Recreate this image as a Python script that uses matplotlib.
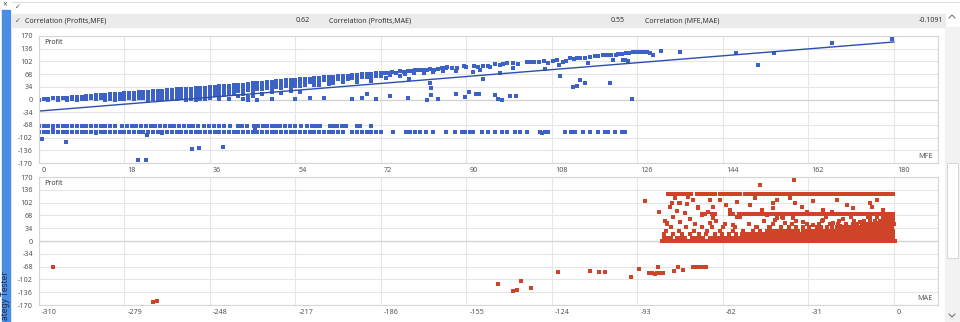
import matplotlib
matplotlib.use("Agg")
from matplotlib import pyplot as plt
from matplotlib import transforms
from matplotlib.patches import Rectangle
from matplotlib.lines import Line2D

plt.rcParams['font.family'] = ['Noto Sans', 'DejaVu Sans']

# ---------------- values ----------------
correlations = [("Correlation (Profits,MFE)", "0.62"),
                ("Correlation (Profits,MAE)", "0.55"),
                ("Correlation (MFE,MAE)", "-0.1091")]

profit_ticks = [-170, -136, -102, -68, -34, 0, 34, 68, 102, 136, 170]
mfe_ticks = [0, 18, 36, 54, 72, 90, 108, 126, 144, 162, 180]
mae_ticks = [-310, -279, -248, -217, -186, -155, -124, -93, -62, -31, 0]

# regression line of profit on MFE
fit_mfe = [0, 180]
fit_profit = [-31, 154]

# winning trades, profit vs MFE: (mfe, [profits]) columns
mfe_win_cols = [
    (0, [0]), (1, [1]), (2, [2, 0]), (3, [3]), (4, [4, 0]), (5, [5]), (6, [5, 0]),
    (7, [6, 1]), (8, [7, 0]), (9, [8, 2]), (10, [9, 1]), (11, [10, 3]), (12, [11, 2]),
    (13, [12, 4]), (14, [13, 5, 0]), (15, [14, 6, 1]), (16, [15, 7, 0]), (17, [16, 8, 2]),
    (18, [17, 9, 1]), (19, [17, 9, 3]), (20, [18, 10, 2]), (21, [19, 11, 4]),
    (22, [20, 12, 3]), (23, [21, 13, 5, 0]), (24, [22, 14, 6, 1]), (25, [23, 15, 7, 0]),
    (26, [24, 16, 8, 2]), (27, [25, 17, 9, 1]), (28, [26, 18, 10, 3]), (29, [27, 19, 11, 2]),
    (30, [28, 20, 12, 4]), (31, [29, 21, 13, 5, 0]), (32, [29, 21, 13, 6, 1]),
    (33, [30, 22, 14, 7, 0]), (34, [31, 23, 15, 8, 2]), (35, [32, 24, 16, 9, 1]),
    (36, [33, 25, 17, 10, 3]), (37, [34, 26, 18, 11]), (38, [35, 27, 19, 12, 2]),
    (39, [36, 28, 20, 13]), (40, [37, 29, 21, 14, 1]), (41, [38, 30, 22, 14]),
    (42, [39, 31, 23, 9]), (43, [40, 32, 24, 16, 1]), (44, [41, 33, 25, 8, 0]),
    (45, [43, 35, 27, 18, 9]), (46, [44, 36, 28, 0]), (47, [45, 37, 27, 16]),
    (48, [46, 38, 30]), (49, [48, 40, 32, 20, 1]), (50, [49, 41, 33]), (51, [50, 42, 31, 18]),
    (52, [51, 43, 35]), (53, [52, 44, 34, 22]), (54, [53, 45, 37, 1]), (55, [54, 46, 36, 19]),
    (56, [55, 47, 39]), (57, [56, 48, 3]), (58, [57, 49, 40]), (59, [58, 50, 38]),
    (60, [59, 51, 4]), (61, [60, 52, 42]), (62, [61, 53, 44]), (63, [62, 54]),
    (64, [63, 55, 46]), (65, [64, 56]), (66, [65, 57, 2]), (67, [66, 58, 48]),
    (68, [67, 59, 3]), (69, [68, 60, 16]), (70, [69, 61, 50]), (71, [70, 62, 2]), (72, [71, 63]),
]
mfe_win_pts = [
    (72.8, 72), (73.6, 71), (74.4, 73), (75.2, 72), (76, 75), (76.8, 74), (77.6, 77), (78.4, 76),
    (79.2, 78), (80, 79), (80.8, 78), (81.6, 80), (82.4, 81), (83.2, 80), (84, 82), (84.8, 84),
    (85.6, 85), (74, 65), (76, 62), (77, 67), (79, 70), (81, 71), (83, 73), (85, 75), (73, 58),
    (78, 55), (82.3, 43), (82.6, 30), (82.6, 12), (81.6, 0), (77.8, 3), (74, 10), (84, 1),
    (86, 86), (87, 85), (88, 84), (89.5, 89), (90, 88), (91.5, 90), (92.5, 88), (93.5, 91),
    (94.5, 89), (95, 87), (96, 94), (97, 93), (97.8, 95), (98.5, 97), (99.8, 98), (100.9, 94),
    (102.7, 101), (103.5, 100), (104.3, 101), (105.2, 100), (106.3, 102), (107.2, 99),
    (108.2, 103), (109, 106), (110.4, 101), (111, 102), (111.8, 110), (112.6, 109), (113.3, 110),
    (114, 112), (115, 111), (116, 114), (117, 117), (117.8, 116), (118.8, 119), (119.7, 118),
    (120.5, 119), (121.4, 118), (122, 122), (122.8, 123), (123.5, 124), (124.3, 125), (125, 127),
    (125.8, 126), (126.5, 127), (127.2, 128), (128, 127), (128.7, 124), (129.3, 120),
    (87.9, 77), (91.4, 74), (92.8, 78), (97, 70), (99.9, 83), (106.6, 81), (109.4, 92),
    (115.7, 99), (120.9, 105), (123.4, 107), (123, 105), (124, 103),
    (87.8, 16), (89.7, 7), (90.6, 20), (92.1, 16), (92.6, 16), (93.4, 56), (96, 12), (96.6, 1),
    (97.5, 0), (99.1, 9), (100.4, 9), (109.7, 62), (112.5, 34), (113.2, 35), (113.9, 51),
    (115, 45), (120.2, 44), (124.9, 1),
    (131, 130), (135, 126), (146.7, 125), (151.5, 92), (154.7, 125), (167, 150), (179.7, 163),
]

# losing trades, two stop levels
loss_a_profit = -70
loss_a_mfe = [0, 1, 2, 3, 4, 5, 6, 7, 8, 9, 10, 11, 12, 13, 14, 15, 16, 17.5, 18.5, 19.5, 20.5,
              21.5, 22.5, 23.5, 24.5, 25.5, 26.5, 27.5, 28.5, 29.5, 30.5, 31.5, 32.5, 33.5,
              34.8, 35.8, 36.8, 37.8, 39, 40.2, 41.8, 42.8, 43.8, 45.2, 46.2, 47.2, 48, 49, 50,
              50.8, 51.8, 52.8, 54, 55.2, 56.4, 57.4, 58.4, 59.2, 61.3, 62, 62.8, 63.8, 64.6,
              67, 67.6, 70]
loss_b_profit = -86
loss_b_mfe = [0, 1, 2, 3, 4, 5, 6, 7, 8, 9, 10, 11, 12, 13, 14, 15, 16, 17, 18, 19, 20, 21, 22,
              23, 24, 25, 26, 27, 28, 29, 30, 31, 32, 33, 34, 35, 36, 37, 38, 39, 40, 41, 42,
              43, 44, 45, 46, 47, 48, 49, 50, 51, 52, 53, 54, 55, 56, 57, 58, 59, 60, 61, 62,
              63, 64, 66, 67, 68, 69, 70, 71, 72, 74.6, 77.3, 78.1, 79.2, 80.2, 81.5, 83,
              85.8, 87.6, 89, 89.7, 90.7, 91.3, 93.2, 94.6, 96, 97.4, 98.5, 100.2, 101.3,
              102.7, 105.5, 106.5, 107.2, 110.7, 112.1, 112.8, 114.6, 116, 117.7, 119.2,
              119.9, 121.3, 122.7, 123.4]
loss_other = [(0.6, -106), (5.6, -115), (22.7, -96), (20.9, -162), (22.5, -161), (32.3, -133),
              (33.6, -131), (38.8, -126), (3, -79), (12, -89), (26, -89), (45.5, -78), (106, -89)]

# profit vs MAE: horizontal runs of trades (profit level, [mae values])
mae_rows = [
    (125, [-81.8, -80.5, -79.2, -77.9, -76.6, -75.6, -74.7, -73.4, -71.4, -70.1, -68.8, -67.5,
           -66.2, -64.9, -63.1, -61.8, -60.5, -59.5, -58.4, -57.1, -55.8, -54, -52.7, -51.4,
           -50.1, -48.8, -47.5, -46.2, -44.9, -43.6, -42.3, -41, -39.7, -38.4, -37.1, -35.8,
           -34.5, -33.2, -31.9, -30.6, -29.3, -28, -26.7, -25.4, -24.1, -22.8, -21.5, -20.2,
           -18.9, -17.6, -16.7, -15.2, -13.9, -12.6, -11.3, -10, -8.7, -7.4, -6.1, -4.8, -3.5,
           -2.2, -0.9, -0.2]),
    (71, [-69.7, -68.4, -66, -64.8, -59.5, -58.2, -56, -54.6, -53.4, -52.1, -50.8, -49.5,
          -48.2, -46.9, -45.6, -44.3, -43, -41.7, -40.4, -39.1, -37.8, -36.5, -35.2, -33.9,
          -32.6, -31.3, -30, -28.7, -27.4, -26.1, -24.8, -23.5, -22.2, -20.9, -19.6, -18.3,
          -17, -15.7, -14.4, -13.1, -11.8, -10.5, -9.2, -7.9, -6.6, -5.3, -4, -2.7, -1.4, -0.3]),
    (1, [-84, -82.8, -81.5, -80.3, -79, -77.6, -76.4, -75.1, -73.9, -72.5, -71.2, -70, -68.7,
         -67.4, -66.1, -64.9, -63.6, -62.3, -61, -59.8, -58.5, -57.2, -55.9, -54.7, -53.4,
         -52.1, -50.8, -49.6, -48.3, -47, -45.7, -44.5, -43.2, -41.9, -40.6, -39.4, -38.1,
         -36.8, -35.5, -34.3, -33, -31.7, -30.4, -29.2, -27.9, -26.6, -25.3, -24.1, -22.8,
         -21.5, -20.2, -19, -17.7, -16.4, -15.1, -13.9, -12.6, -11.3, -10, -8.8, -7.5, -6.2,
         -4.9, -3.7, -2.4, -1.1, 0.3]),
    (9, [-83.5, -82.2, -80.9, -78.5, -77.1, -75.8, -73.2, -71.8, -70.5, -69.1, -66.6, -65.3,
         -64, -62.6, -61.3, -60, -58.7, -57.4, -56, -54.7, -53.4, -52.1, -50.8, -49.5, -48.2,
         -46.9, -45.6, -44.3, -43, -41.7, -40.4, -39.1, -37.8, -36.5, -35.2, -33.9, -32.6,
         -31.3, -30, -28.7, -27.4, -26.1, -24.8, -23.5, -22.2, -20.9, -19.6, -18.3, -17, -15.7,
         -14.4, -13.1, -11.8, -10.5, -9.2, -7.9, -6.6, -5.3, -4, -2.7, -1.4, -0.2]),
    (18, [-83.2, -80, -76.7, -74.1, -70.8, -68.2, -65, -62.4, -59.9, -57.3, -55.2, -53.6, -52.3,
          -51, -49.7, -48.4, -47.1, -45.8, -44.5, -43.2, -41.9, -40.6, -39.3, -38, -36.7,
          -35.4, -34.1, -32.8, -31.5, -30.2, -28.9, -27.6, -26.3, -25, -23.7, -22.4, -21.1,
          -19.8, -18.5, -17.2, -15.9, -14.6, -13.3, -12, -10.7, -9.4, -8.1, -6.8, -5.5, -4.2,
          -2.9, -1.6, -0.4]),
    (27, [-82.5, -78, -72.6, -67.9, -63, -58.4, -54.8, -51.2, -48.5, -46, -44.4, -43.1, -41.6,
          -40.2, -38.7, -37.4, -36, -34.6, -33.1, -31.8, -30.3, -28.9, -27.5, -26.2, -24.8,
          -23.4, -22, -20.6, -19.2, -17.8, -16.5, -15.1, -13.8, -12.4, -11, -9.7, -8.3, -7,
          -5.6, -4.2, -2.9, -1.5, -0.3]),
    (36, [-81, -75.5, -66, -57.7, -50, -45.2, -41, -38.2, -35.5, -33, -30.8, -28, -26.5, -24.3,
          -22.4, -20.8, -19.2, -17.6, -16.2, -14.8, -13.5, -12.2, -10.9, -9.6, -8.3, -7, -5.7,
          -4.4, -3.1, -1.8, -0.5]),
    (45, [-82.4, -72, -61.3, -52.6, -43.8, -37, -31.6, -27.2, -23, -20.1, -17.5, -15, -13.2,
          -11.6, -10.2, -8.9, -7.6, -6.3, -5, -3.7, -2.4, -1.1, -0.1]),
    (54, [-83, -64.5, -47, -35.4, -26, -19.8, -14.4, -11, -8.6, -6.8, -5.2, -3.8, -2.5, -1.2,
          -0.2]),
    (63, [-57, -40.5, -24.6, -15.6, -9.5, -6, -4, -2.6, -1.3, -0.3]),
]
mae_scatter = [
    (-79.4, 113), (-77.6, 100), (-74.6, 118), (-72.8, 109), (-81.2, 91), (-78.8, 80),
    (-75.8, 74), (-80, 65), (-82.4, 47), (-77.6, 51), (-74, 58), (-70.9, 91), (-69.7, 69),
    (-67.3, 78), (-65.5, 60), (-69.7, 38), (-66.7, 47), (-63.1, 109), (-60.7, 96), (-59.5, 82),
    (-57, 104), (-55.8, 65), (-54, 73), (-61.9, 38), (-58.3, 42), (-52.2, 96), (-50.4, 113),
    (-47.9, 82), (-46.1, 69), (-43.8, 100), (-42.5, 60), (-49.8, 38), (-44.9, 34),
    (-80.6, 102), (-77.8, 100), (-74.9, 98), (-70.9, 87), (-66.7, 109), (-65.5, 91),
    (-42.5, 109), (-37.6, 113), (-35.8, 100), (-33.4, 91), (-29.2, 107), (-25.6, 82),
    (-20.7, 110), (-17.1, 96), (-14.7, 87), (-8.6, 100), (-8, 91), (-6.2, 109), (-3.8, 82),
    (-43.7, 87), (-31.6, 78), (-22.5, 78), (-43.1, 56), (-39.5, 47), (-36.4, 60), (-32.8, 51),
    (-29.2, 42), (-25.6, 56), (-21.9, 49), (-18.3, 58), (-14.7, 45), (-12.3, 51), (-8.6, 60),
    (-6.2, 49), (-3.8, 56), (-2, 65), (-40.1, 62), (-19.5, 41), (-11.1, 41),
    (-90.3, 107), (-85, 78), (-48.6, 150), (-36.1, 162),
]
mae_loss = [
    (-304.8, -70), (-268.8, -163), (-267.1, -160), (-143.7, -114), (-138.2, -133),
    (-136.8, -131), (-135.2, -105), (-131.7, -125), (-121.9, -83), (-110.2, -80),
    (-106.8, -83), (-104.8, -83), (-95.5, -96), (-92.4, -74), (-88.8, -86), (-87.8, -86),
    (-86.8, -87), (-85.8, -86), (-84.8, -86), (-83.8, -85), (-85.4, -70), (-79.8, -79),
    (-78.2, -70), (-76.6, -76), (-72.9, -70), (-72, -70), (-71, -69), (-70, -69), (-69, -68),
    (-68.2, -68),
]

# ---------------- figure ----------------
W, H = 960, 322
fig = plt.figure(figsize=(W / 100, H / 100), dpi=100)
fig.patch.set_facecolor('white')


def fx(x):
    return x / W


def fy(y):
    return 1 - y / H


# window chrome
fig.patches.append(Rectangle((fx(2), 0), 8 / W, (H - 10) / H, transform=fig.transFigure,
                             color='#4a8de4', zorder=0))
fig.text(fx(6), fy(320), "ategy Tester", rotation=90, ha='center', va='bottom',
         fontsize=6, color='#1d2b4c')
fig.text(fx(5), fy(5), "\u00d7", ha='center', va='center', fontsize=6, color='#555555')
fig.lines.append(Line2D([fx(12), 1], [fy(2), fy(2)], transform=fig.transFigure,
                        color='#dddddd', lw=0.8))
fig.patches.append(Rectangle((fx(12), fy(27)), 933 / W, 13 / H, transform=fig.transFigure,
                             color='#ebebeb', zorder=0))
fig.text(fx(15), fy(7), "\u2713", ha='left', va='center', fontsize=5, color='#555555',
         family='DejaVu Sans')
fig.text(fx(15), fy(21), "\u2713", ha='left', va='center', fontsize=5, color='#555555',
         family='DejaVu Sans')
name_x = [25, 329, 645]
value_x = [310, 625, 943]
for (name, value), nx, vx in zip(correlations, name_x, value_x):
    fig.text(fx(nx), fy(21), name, ha='left', va='center', fontsize=5.1, color='#333333')
    fig.text(fx(vx), fy(21), value, ha='right', va='center', fontsize=5.1, color='#333333')

# scrollbar
fig.patches.append(Rectangle((fx(945), 0), 15 / W, (H - 27) / H, transform=fig.transFigure,
                             color='#f2f2f2', zorder=0))
fig.patches.append(Rectangle((fx(947), fy(258)), 11 / W, 95 / H, transform=fig.transFigure,
                             facecolor='white', edgecolor='#d6d6d6', lw=0.7, zorder=1))
fig.lines.append(Line2D([fx(949), fx(952), fx(955)], [fy(18), fy(15), fy(18)],
                        transform=fig.transFigure, color='#666666', lw=0.7))
fig.lines.append(Line2D([fx(949), fx(952), fx(955)], [fy(314), fy(317), fy(314)],
                        transform=fig.transFigure, color='#666666', lw=0.7))

ax1 = fig.add_axes([fx(39), fy(163), 899 / W, 127 / H])
ax2 = fig.add_axes([fx(39), fy(305), 899 / W, 128 / H])

blue = '#3c62c8'
red = '#cf4328'
mk = dict(ls='none', marker='s', ms=3.4, mew=0)


def style(ax, xticks, xname):
    ax.set_ylim(-170, 170)
    ax.set_yticks(profit_ticks)
    ax.set_yticklabels([str(v) for v in profit_ticks])
    ax.set_xticks(xticks)
    ax.set_xticklabels([str(v) for v in xticks])
    ax.tick_params(length=0, labelsize=5.2, labelcolor='#555555')
    ax.tick_params(axis='y', pad=4.3)
    ax.tick_params(axis='x', pad=2.6)
    shift = transforms.ScaledTranslation(3 / 100, 0, fig.dpi_scale_trans)
    for lab in ax.get_xticklabels():
        lab.set_ha('left')
        lab.set_transform(lab.get_transform() + shift)
    ax.grid(True, color='#e6e6e6', lw=0.8)
    ax.set_axisbelow(True)
    for s in ax.spines.values():
        s.set_color('#d6d6d6')
        s.set_linewidth(0.8)
    ax.axhline(0, color='#d2d2d2', lw=0.9, zorder=0.6)
    ax.text(5 / 899, 1 - 6.5 / 127, "Profit", transform=ax.transAxes, ha='left', va='center',
            fontsize=5.2, color='#444444')
    ax.text(1 - 5 / 899, 6.5 / 127, xname, transform=ax.transAxes, ha='right', va='center',
            fontsize=5.2, color='#555555')


# chart 1: profit vs MFE
style(ax1, mfe_ticks, "MFE")
ax1.set_xlim(0, 189.3)
wx = [c for c, ys in mfe_win_cols for _ in ys]
wy = [y for c, ys in mfe_win_cols for y in ys]
wx += [p[0] for p in mfe_win_pts]
wy += [p[1] for p in mfe_win_pts]
ax1.plot(wx, wy, color=blue, **mk)
ax1.plot(loss_a_mfe, [loss_a_profit] * len(loss_a_mfe), color=blue, **mk)
ax1.plot(loss_b_mfe, [loss_b_profit] * len(loss_b_mfe), color=blue, **mk)
ax1.plot([p[0] for p in loss_other], [p[1] for p in loss_other], color=blue, **mk)
ax1.plot(fit_mfe, fit_profit, color='#2c4fae', lw=1.0)

# chart 2: profit vs MAE
style(ax2, mae_ticks, "MAE")
ax2.set_xlim(-310, 16)
rx = [x for lvl, xs in mae_rows for x in xs]
ry = [lvl for lvl, xs in mae_rows for _ in xs]
rx += [p[0] for p in mae_scatter + mae_loss]
ry += [p[1] for p in mae_scatter + mae_loss]
ax2.plot(rx, ry, color=red, **mk)

fig.savefig("out.png", dpi=100, facecolor='white')
